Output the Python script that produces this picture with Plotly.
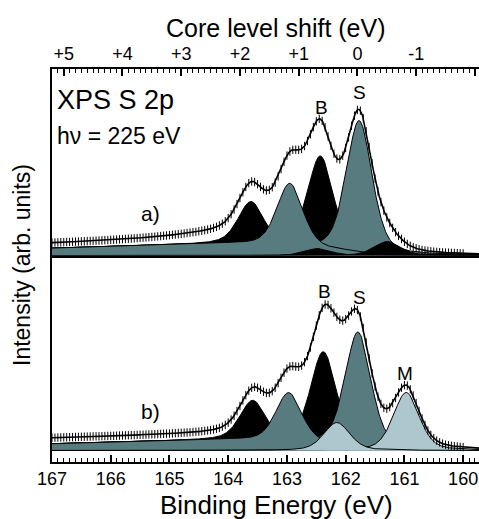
import numpy as np
import plotly.graph_objects as go

# ---------------- data ----------------
be_ticks = [167, 166, 165, 164, 163, 162, 161, 160]
shift_ticks = [5, 4, 3, 2, 1, 0, -1, -2]
shift_labels = ["+5", "+4", "+3", "+2", "+1", "0", "-1", "-2"]
S_REF = 161.8          # binding energy of zero core-level shift
BE_LEFT, BE_RIGHT = 167.0, 159.73

# panel a): fitted doublet components (2p3/2, 2p1/2)
a_S_pos = [161.77, 162.95]; a_S_amp = [132, 63]     # S (teal)
a_B_pos = [162.43, 163.61]; a_B_amp = [93, 43]      # B (black)
a_X_pos = [161.29, 162.47]; a_X_amp = [14, 7]       # minor (black, front)
a_bg_step = 12
a_extra = [15, 162.6, 2.2, 0.33]    # unresolved envelope background: height, onset, decay, floor

# panel b)
b_S_pos = [161.79, 162.97]; b_S_amp = [115, 49]     # S (teal)
b_B_pos = [162.38, 163.58]; b_B_amp = [92, 40]      # B (black)
b_M_pos = [160.97, 162.15]; b_M_amp = [58, 28]      # M (light)
b_bg_step = 11
b_extra = [17, 162.4, 0.7, 0.33]

FWHM = 0.52
ETA = 0.4

TEAL = "#577b7f"
LIGHT = "#aec6ce"
BLACK = "#000000"

E = np.round(np.arange(BE_RIGHT, BE_LEFT + 1e-9, 0.01), 3)
E_pts = np.round(np.arange(160.0, BE_LEFT + 1e-9, 0.05), 3)


def pv(x, pos, amp):
    d = (x - pos) / FWHM
    return amp * (ETA / (1 + 4 * d ** 2) + (1 - ETA) * np.exp(-4 * np.log(2) * d ** 2))


def panel_curves(x, groups, step, extra):
    comps = [[pv(x, p, a) for p, a in zip(pos, amp)] for pos, amp in groups]
    tot = sum(sum(c) for c in comps)
    cum = np.cumsum(tot)
    bg = step * cum / cum[-1]
    bg = bg * (1 - 0.14 * np.clip(x - 164.2, 0, None))
    A, E0, L, c = extra
    sig = 1 / (1 + np.exp(-(x - 162.1) / 0.15))
    dec = c + (1 - c) * np.exp(-(np.clip(x - E0, 0, None) / L) ** 2)
    broad = A * sig * dec
    return comps, bg, tot, broad


fig = go.Figure()


def add_panel(groups, styles, step, extra, xa, ya):
    comps, bg, tot, broad = panel_curves(E, groups, step, extra)
    for comp_list, (color, with_bg) in zip(comps, styles):
        for c in comp_list:
            yv = c + bg if with_bg else c
            fig.add_trace(go.Scatter(x=E, y=yv, mode="lines", fill="tozeroy",
                                     fillcolor=color, line=dict(color="black", width=1),
                                     xaxis=xa, yaxis=ya, hoverinfo="skip", showlegend=False))
    env = bg + tot + broad
    fig.add_trace(go.Scatter(x=E, y=env, mode="lines", line=dict(color="black", width=1.6),
                             xaxis=xa, yaxis=ya, showlegend=False, hoverinfo="skip"))
    env_p = np.interp(E_pts, E, env)
    fig.add_trace(go.Scatter(x=E_pts, y=env_p, mode="markers",
                             marker=dict(symbol="line-ns", size=6, line=dict(color="black", width=1)),
                             xaxis=xa, yaxis=ya, showlegend=False, hoverinfo="skip"))


# top panel a)
add_panel([(a_B_pos, a_B_amp), (a_S_pos, a_S_amp), (a_X_pos, a_X_amp)],
          [(BLACK, True), (TEAL, True), (BLACK, False)], a_bg_step, a_extra, "x2", "y2")
# bottom panel b)
add_panel([(b_B_pos, b_B_amp), (b_S_pos, b_S_amp), (b_M_pos, b_M_amp)],
          [(BLACK, True), (TEAL, True), (LIGHT, False)], b_bg_step, b_extra, "x", "y")

# invisible anchors so the tick-only axes are drawn
for xa, ya, xv in [("x3", "y2", 0), ("x4", "y", 163), ("x5", "y2", 0)]:
    fig.add_trace(go.Scatter(x=[xv], y=[0], mode="markers", marker=dict(opacity=0),
                             xaxis=xa, yaxis=ya, showlegend=False, hoverinfo="skip"))

FONT = "Liberation Sans, Arial, sans-serif"
SPLIT = 0.5254

fig.update_layout(
    width=479, height=519,
    margin=dict(l=52, r=0, t=69, b=57),
    paper_bgcolor="white", plot_bgcolor="white",
    font=dict(family=FONT, color="black"),
    xaxis=dict(domain=[0, 1], anchor="y", range=[BE_LEFT, BE_RIGHT],
               tickmode="array", tickvals=be_ticks, ticks="inside", ticklen=7,
               tickwidth=1.5, tickcolor="black",
               showline=True, linecolor="black", linewidth=1.6,
               showgrid=False, zeroline=False, tickfont=dict(size=18)),
    xaxis4=dict(overlaying="x", anchor="y", side="bottom", range=[BE_LEFT, BE_RIGHT],
                tickmode="linear", tick0=160, dtick=0.1, ticks="inside", ticklen=4,
                tickwidth=1, tickcolor="black", showticklabels=False,
                showline=False, showgrid=False, zeroline=False),
    yaxis=dict(domain=[0, SPLIT], range=[-11.5, 195], showline=True, linecolor="black",
               linewidth=1.5, showticklabels=False, ticks="", showgrid=False, zeroline=False),
    xaxis2=dict(anchor="y2", matches="x", range=[BE_LEFT, BE_RIGHT], showticklabels=False,
                ticks="", showline=True, linecolor="black", linewidth=1.5,
                showgrid=False, zeroline=False),
    yaxis2=dict(domain=[SPLIT, 1], range=[0, 186.5], showline=True, linecolor="black",
                linewidth=1.5, showticklabels=False, ticks="", showgrid=False, zeroline=False),
    xaxis3=dict(overlaying="x2", anchor="y2", side="top",
                range=[BE_LEFT - S_REF, BE_RIGHT - S_REF],
                tickmode="array", tickvals=shift_ticks, ticktext=shift_labels,
                ticks="inside", ticklen=7, tickwidth=1.5, tickcolor="black",
                showline=True, linecolor="black", linewidth=1.6,
                showgrid=False, zeroline=False, tickfont=dict(size=18)),
    xaxis5=dict(overlaying="x2", anchor="y2", side="top",
                range=[BE_LEFT - S_REF, BE_RIGHT - S_REF],
                tickmode="linear", tick0=0, dtick=0.1, ticks="inside", ticklen=4,
                tickwidth=1, tickcolor="black", showticklabels=False,
                showline=False, showgrid=False, zeroline=False),
)

XC = (276 - 52) / 427
ann = [
    dict(text="Core level shift (eV)", x=XC, y=28, xref="paper", yref="paper", font_size=25),
    dict(text="Binding Energy (eV)", x=XC, y=505, xref="paper", yref="paper", font_size=26),
]
for a in ann:
    a["y"] = 1 - (a["y"] - 69) / 393
    fig.add_annotation(showarrow=False, xanchor="center", yanchor="middle", **a)

fig.add_annotation(text="Intensity (arb. units)", textangle=-90, x=-(52 - 22) / 427,
                   y=1 - (265 - 69) / 393, xref="paper", yref="paper", showarrow=False,
                   font=dict(size=23), xanchor="center", yanchor="middle")


def px2be(px):
    return 167 - (px - 52) / 58.7


labels_top = [
    ("XPS S 2p", 55, 156, 27, "left"),
    ("h\u03bd = 225 eV", 55, 120, 23, "left"),
    ("a)", 150, 42, 21, "center"),
    ("B", 321, 148, 19, "center"),
    ("S", 359, 163, 19, "center"),
]
for t, px, h, fs, xa in labels_top:
    fig.add_annotation(text=t, x=px2be(px), y=h, xref="x2", yref="y2", showarrow=False,
                       font=dict(size=fs), xanchor=xa, yanchor="middle")

labels_bot = [
    ("b)", 150, 39, 21),
    ("B", 324, 159, 19),
    ("S", 359, 153, 19),
    ("M", 405, 77, 19),
]
for t, px, h, fs in labels_bot:
    fig.add_annotation(text=t, x=px2be(px), y=h, xref="x", yref="y", showarrow=False,
                       font=dict(size=fs), xanchor="center", yanchor="middle")

fig.write_html("out.html", config={"displayModeBar": False},
               post_script="document.body.style.margin='0';document.body.style.padding='0';")
